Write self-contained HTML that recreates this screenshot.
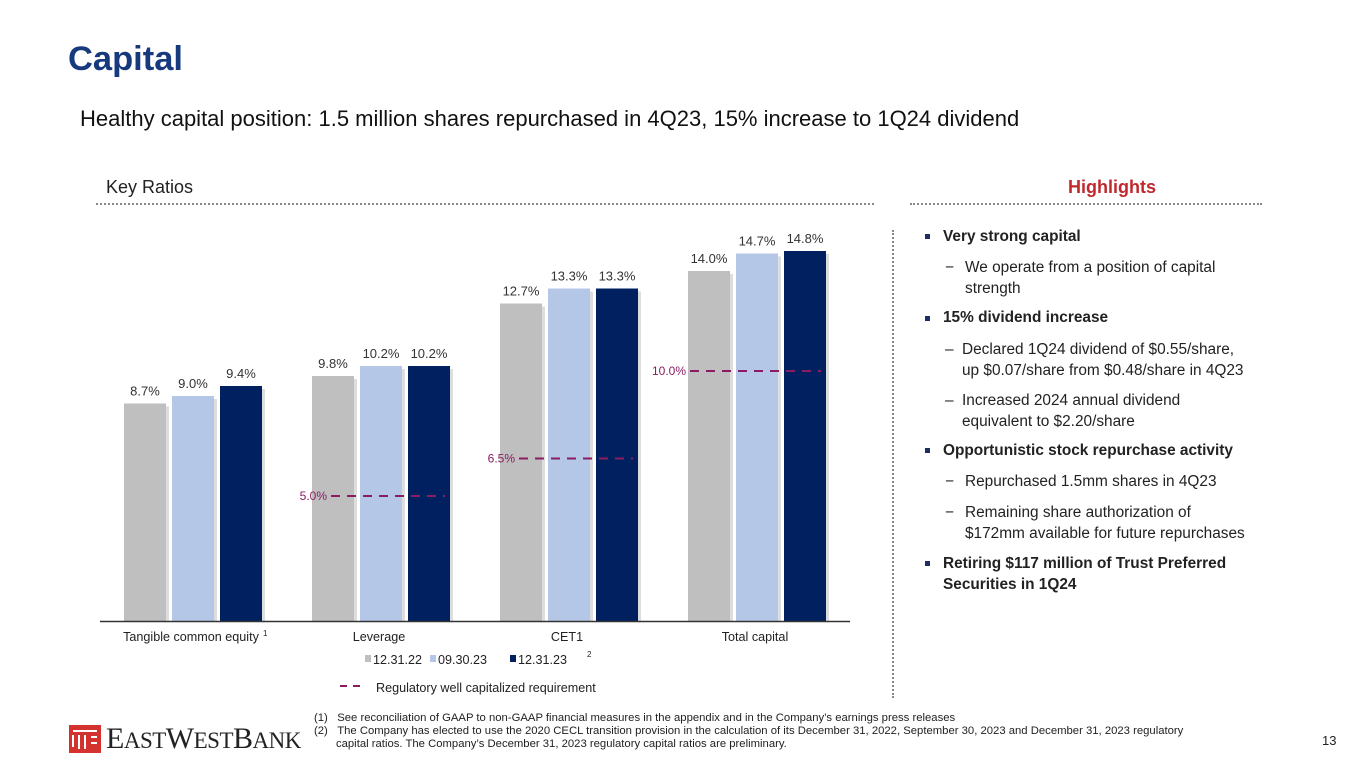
<!DOCTYPE html>
<html><head><meta charset="utf-8"><style>
body{margin:0;width:1365px;height:768px;background:#fff;font-family:"Liberation Sans",Arial,sans-serif;position:relative;overflow:hidden}
.a{position:absolute;white-space:nowrap}
.hl{font-size:15.4px;color:#222;line-height:21px}
.b{font-weight:bold}
.sq{position:absolute;width:5px;height:5px;background:#1b2f66}
</style></head><body>
<div class="a" style="left:68px;top:40px;font-size:34.5px;font-weight:bold;color:#17397d">Capital</div>
<div class="a" style="left:80px;top:106px;font-size:22px;color:#111">Healthy capital position: 1.5 million shares repurchased in 4Q23, 15% increase to 1Q24 dividend</div>
<div class="a" style="left:106px;top:177px;font-size:18px;color:#222">Key Ratios</div>
<div class="a" style="left:96px;top:203px;width:778px;border-top:2px dotted #888"></div>
<div class="a" style="left:1068px;top:177px;font-size:18px;font-weight:bold;color:#c0282d">Highlights</div>
<div class="a" style="left:910px;top:203px;width:352px;border-top:2px dotted #888"></div>
<div class="a" style="left:892px;top:230px;height:468px;border-left:2px dotted #888"></div>

<svg class="a" style="left:0;top:0" width="880" height="710" id="chart"></svg>

<div>
<div class="sq" style="left:925px;top:234px"></div><div class="a hl b" style="left:943px;top:226px">Very strong capital</div>
<div class="a hl" style="left:945px;top:257px">−</div><div class="a hl" style="left:965px;top:257px">We operate from a position of capital<br>strength</div>
<div class="sq" style="left:925px;top:316px"></div><div class="a hl b" style="left:943px;top:307px">15% dividend increase</div>
<div class="a hl" style="left:945px;top:339px">–</div><div class="a hl" style="left:962px;top:339px">Declared 1Q24 dividend of $0.55/share,<br>up $0.07/share from $0.48/share in 4Q23</div>
<div class="a hl" style="left:945px;top:390px">–</div><div class="a hl" style="left:962px;top:390px">Increased 2024 annual dividend<br>equivalent to $2.20/share</div>
<div class="sq" style="left:925px;top:448px"></div><div class="a hl b" style="left:943px;top:440px">Opportunistic stock repurchase activity</div>
<div class="a hl" style="left:945px;top:471px">−</div><div class="a hl" style="left:965px;top:471px">Repurchased 1.5mm shares in 4Q23</div>
<div class="a hl" style="left:945px;top:502px">−</div><div class="a hl" style="left:965px;top:502px">Remaining share authorization of<br>$172mm available for future repurchases</div>
<div class="sq" style="left:925px;top:561px"></div><div class="a hl b" style="left:943px;top:553px">Retiring $117 million of Trust Preferred<br>Securities in 1Q24</div>
</div>

<div class="a" style="left:69px;top:725px">
<svg width="32" height="28" style="position:absolute;left:0;top:0"><rect width="32" height="28" fill="#d3322f"/><g stroke="#fff" stroke-width="2"><line x1="4" y1="6" x2="28" y2="6"/><line x1="10" y1="10" x2="10" y2="24"/><line x1="16" y1="10" x2="16" y2="24"/><line x1="22" y1="12" x2="28" y2="12"/><line x1="22" y1="18" x2="28" y2="18"/><line x1="4" y1="10" x2="4" y2="22"/></g></svg>
<div class="a" style="left:37px;top:-3px;font-family:'Liberation Serif',serif;font-size:30px;color:#222;letter-spacing:-0.5px">E<span style="font-size:23px">AST</span>W<span style="font-size:23px">EST</span>B<span style="font-size:23px">ANK</span></div>
</div>
<div class="a" style="left:314px;top:712px;font-size:11.3px;color:#222;line-height:13px">
(1)&nbsp;&nbsp;&nbsp;See reconciliation of GAAP to non-GAAP financial measures in the appendix and in the Company’s earnings press releases<br>
(2)&nbsp;&nbsp;&nbsp;The Company has elected to use the 2020 CECL transition provision in the calculation of its December 31, 2022, September 30, 2023 and December 31, 2023 regulatory<br>
&nbsp;&nbsp;&nbsp;&nbsp;&nbsp;&nbsp;&nbsp;capital ratios. The Company’s December 31, 2023 regulatory capital ratios are preliminary.</div>
<div class="a" style="left:1322px;top:733px;font-size:13px;color:#222">13</div>

<script>
const categories=["Tangible common equity","Leverage","CET1","Total capital"];
const s1222=[8.7,9.8,12.7,14.0];
const s0930=[9.0,10.2,13.3,14.7];
const s1223=[9.4,10.2,13.3,14.8];
const regReq=[null,5.0,6.5,10.0];
const seriesNames=["12.31.22","09.30.23","12.31.23"];
const NS="http://www.w3.org/2000/svg";
const svg=document.getElementById('chart');
const base=621, k=25;
const y=v=>base-v*k;
const gx=i=>124+i*188;
const colors=["#bfbfbf","#b4c7e7","#002060"];
function el(t,a,txt){const e=document.createElementNS(NS,t);for(const n in a)e.setAttribute(n,a[n]);if(txt!=null)e.textContent=txt;svg.appendChild(e);return e;}
[s1222,s0930,s1223].forEach((s,si)=>{
 s.forEach((v,i)=>{
  const x=gx(i)+si*48;
  el('rect',{x:x+3,y:y(v)+3,width:42,height:v*k-3,fill:'#ddd'});
  const r=el('rect',{x:x,y:y(v),width:42,height:v*k,fill:colors[si]});
  
  
  const t=el('text',{x:x+21,y:y(v)-8,'text-anchor':'middle','font-size':13,fill:'#333','font-family':'Liberation Sans,sans-serif'},v.toFixed(1)+'%');
  
  
 });
});
regReq.forEach((v,i)=>{
 if(v==null)return;
 const x1=gx(i)+(i==3?2:19), x2=gx(i)+133;
 const l=el('line',{x1:x1,x2:x2,y1:y(v),y2:y(v),stroke:'#8b1c62','stroke-width':2,'stroke-dasharray':'9,7'});
 
 
 const t=el('text',{x:x1-4,y:y(v)+4,'text-anchor':'end','font-size':12,fill:'#8b1c62','font-family':'Liberation Sans,sans-serif'},v.toFixed(1)+'%');
 
 
});
el('line',{x1:100,x2:850,y1:621.5,y2:621.5,stroke:'#333','stroke-width':1.5});
categories.forEach((c,i)=>{
 const t=el('text',{x:gx(i)+67,y:641,'text-anchor':'middle','font-size':12.6,fill:'#222','font-family':'Liberation Sans,sans-serif'},c);
 
 
});
el('text',{x:263,y:636,'font-size':8,fill:'#222'},'1');
const lx=[365,430,510];
seriesNames.forEach((n,i)=>{
 const r=el('rect',{x:lx[i],y:655,width:6,height:7,fill:colors[i]});
 
 
 const t=el('text',{x:lx[i]+8,y:664,'font-size':12.6,fill:'#222','font-family':'Liberation Sans,sans-serif'},n);
 
 
});
el('text',{x:587,y:657,'font-size':8,fill:'#222'},'2');
el('line',{x1:340,x2:362,y1:686,y2:686,stroke:'#8b1c62','stroke-width':2,'stroke-dasharray':'7,6'});
el('text',{x:376,y:692,'font-size':12.6,fill:'#222','font-family':'Liberation Sans,sans-serif'},'Regulatory well capitalized requirement');
</script>
</body></html>
